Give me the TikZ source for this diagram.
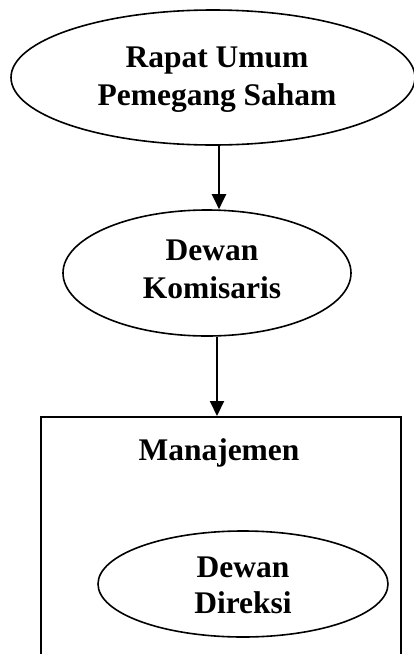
\documentclass[tikz,border=0pt]{standalone}
\usepackage{fontspec}
\setmainfont{Liberation Serif}
\usetikzlibrary{shapes.geometric,arrows.meta}
\tikzset{
  ell/.style={draw, ellipse, line width=1.6pt, inner sep=0pt},
  lbl/.style={font=\fontsize{31.5}{37}\selectfont\bfseries, align=center, inner sep=0pt},
  arr/.style={line width=2pt, -{Triangle[width=14pt,length=15pt]}},
  frame/.style={draw, line width=2pt}
}
\begin{document}
\begin{tikzpicture}[x=1pt,y=-1pt]
  \clip (0,0) rectangle (414,654);
  % shareholders' meeting
  \node[ell, minimum width=404, minimum height=135] (rups) at (213,77.5) {};
  \node[lbl, anchor=base] (rupsA) at (217,67) {Rapat Umum};
  \node[lbl, anchor=base] (rupsB) at (217,105) {Pemegang Saham};
  % board of commissioners
  \node[ell, minimum width=288, minimum height=126] (dk) at (207,273) {};
  \node[lbl, anchor=base] (dkA) at (212,260) {Dewan};
  \node[lbl, anchor=base] (dkB) at (212,298) {Komisaris};
  % management box
  \node[frame, minimum width=360, minimum height=260, anchor=north west] (mgmt) at (40,416) {};
  \node[lbl, anchor=base] (mgmtT) at (219,460) {Manajemen};
  % board of directors
  \node[ell, minimum width=290, minimum height=106] (dd) at (243,584) {};
  \node[lbl, anchor=base] (ddA) at (243,577) {Dewan};
  \node[lbl, anchor=base] (ddB) at (243,613) {Direksi};
  % connectors
  \draw[arr] ([xshift=6]rups.south) -- ([xshift=12]dk.north);
  \draw[arr] ([xshift=10]dk.south) -- (mgmt.north west -| 217,0);
\end{tikzpicture}
\end{document}
